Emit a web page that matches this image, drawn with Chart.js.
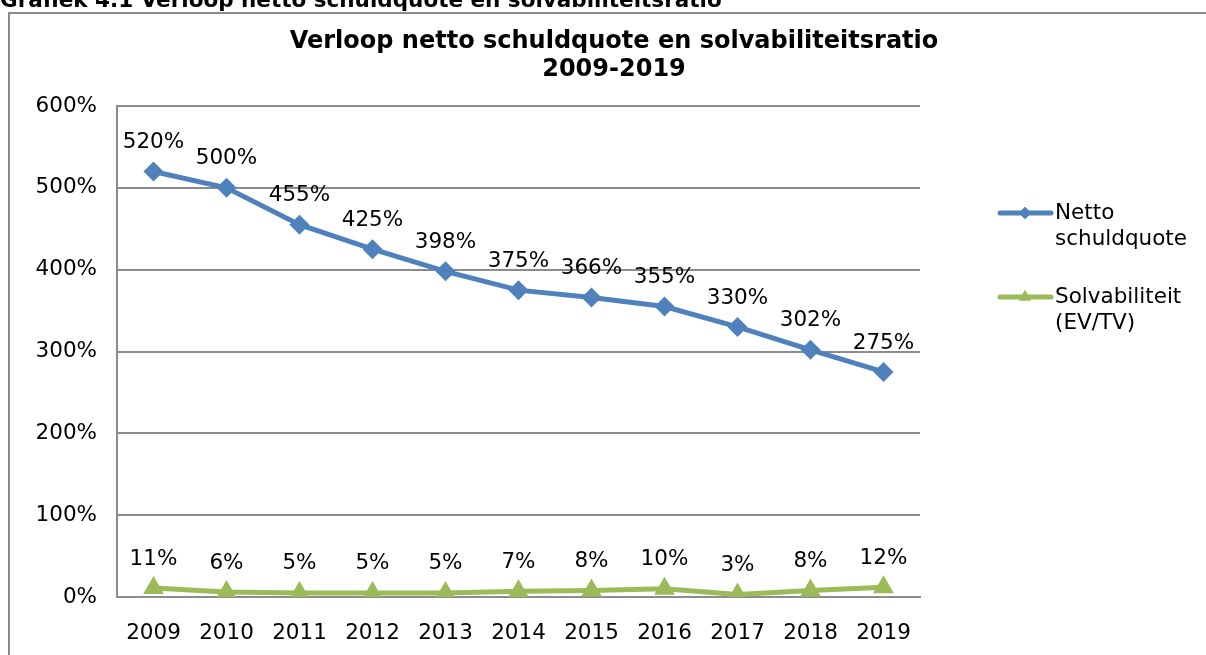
<!DOCTYPE html>
<html>
<head>
<meta charset="utf-8">
<script src="https://cdn.jsdelivr.net/npm/chart.js@4.4.0/dist/chart.umd.min.js"></script>
<style>
  html, body { margin: 0; padding: 0; background: #fff; }
  #wrap { width: 1206px; height: 655px; }
</style>
</head>
<body>
<div id="wrap"><canvas id="lineChart" width="1206" height="655"></canvas></div>
<script>
// Gegevens uit de grafiek
const jaren = ['2009', '2010', '2011', '2012', '2013', '2014', '2015', '2016', '2017', '2018', '2019'];
const nettoSchuldquote = [520, 500, 455, 425, 398, 375, 366, 355, 330, 302, 275];
const solvabiliteit = [11, 6, 5, 5, 5, 7, 8, 10, 3, 8, 12];
const yTicks = [0, 100, 200, 300, 400, 500, 600];

const FONT = 'DejaVu Sans, Verdana, sans-serif';
const FS = 21.5;
const BLUE = '#4F81BD';
const GREEN = '#9BBB59';

// Kop, kader, titel, datalabels en legenda tekenen
const extras = {
    id: 'extras',
    afterDraw(chart) {
        const ctx = chart.ctx;
        ctx.save();

        // kop boven het kader (gedeeltelijk afgesneden)
        ctx.fillStyle = '#000';
        ctx.font = 'bold 21.5px ' + FONT;
        ctx.textAlign = 'left';
        ctx.textBaseline = 'alphabetic';
        ctx.fillText('Grafiek 4.1 Verloop netto schuldquote en solvabiliteitsratio', 0, 7);

        // kader
        ctx.strokeStyle = '#8c8c8c';
        ctx.lineWidth = 2;
        ctx.beginPath();
        ctx.moveTo(9, 660);
        ctx.lineTo(9, 13);
        ctx.lineTo(1210, 13);
        ctx.stroke();

        // titel
        ctx.font = 'bold 24px ' + FONT;
        ctx.textAlign = 'center';
        ctx.textBaseline = 'middle';
        ctx.fillText('Verloop netto schuldquote en solvabiliteitsratio', 614, 42);
        ctx.fillText('2009-2019', 614, 70);

        // datalabels
        ctx.font = FS + 'px ' + FONT;
        ctx.textBaseline = 'middle';
        chart.data.datasets.forEach((ds, i) => {
            chart.getDatasetMeta(i).data.forEach((pt, j) => {
                ctx.fillText(ds.data[j] + '%', pt.x, pt.y - 29);
            });
        });

        // legenda
        const items = [
            { lines: ['Netto', 'schuldquote'], color: BLUE, style: 'rectRot', r: 6, y: 213 },
            { lines: ['Solvabiliteit', '(EV/TV)'], color: GREEN, style: 'triangle', r: 7, y: 297 }
        ];
        items.forEach(it => {
            ctx.strokeStyle = it.color;
            ctx.lineWidth = 5;
            ctx.lineCap = 'round';
            ctx.beginPath();
            ctx.moveTo(1000, it.y);
            ctx.lineTo(1051, it.y);
            ctx.stroke();
            ctx.fillStyle = it.color;
            Chart.helpers.drawPoint(ctx, { pointStyle: it.style, radius: it.r, borderWidth: 0 }, 1025, it.y);
            ctx.fill();
            ctx.fillStyle = '#000';
            ctx.textAlign = 'left';
            ctx.font = FS + 'px ' + FONT;
            it.lines.forEach((t, k) => ctx.fillText(t, 1055, it.y + k * 26));
        });

        ctx.restore();
    }
};

const ctx = document.getElementById('lineChart').getContext('2d');
new Chart(ctx, {
    type: 'line',
    data: {
        labels: jaren,
        datasets: [{
            label: 'Netto schuldquote',
            data: nettoSchuldquote,
            borderColor: BLUE,
            backgroundColor: BLUE,
            borderWidth: 5,
            pointStyle: 'rectRot',
            pointRadius: 10,
            pointBorderWidth: 0,
            tension: 0
        }, {
            label: 'Solvabiliteit (EV/TV)',
            data: solvabiliteit,
            borderColor: GREEN,
            backgroundColor: GREEN,
            borderWidth: 5,
            pointStyle: 'triangle',
            pointRadius: 12,
            pointBorderWidth: 0,
            tension: 0
        }]
    },
    options: {
        responsive: false,
        animation: false,
        devicePixelRatio: 1,
        layout: { padding: { left: 0, top: 106, right: 1206 - 920, bottom: 0 } },
        plugins: {
            legend: { display: false },
            title: { display: false },
            tooltip: { enabled: false }
        },
        scales: {
            x: {
                offset: true,
                grid: { display: false, drawTicks: false },
                border: { display: true, color: '#8c8c8c', width: 2 },
                ticks: { color: '#000', font: { family: FONT, size: FS }, padding: 24, maxRotation: 0 },
                afterFit(scale) { scale.height = 655 - 597; }
            },
            y: {
                min: 0,
                max: 600,
                afterBuildTicks(scale) { scale.ticks = yTicks.map(v => ({ value: v })); },
                grid: { color: '#8c8c8c', lineWidth: 2, drawTicks: false },
                border: { display: true, color: '#8c8c8c', width: 2 },
                ticks: {
                    color: '#000',
                    font: { family: FONT, size: FS },
                    padding: 20,
                    callback: v => v + '%'
                },
                afterFit(scale) { scale.width = 117; }
            }
        }
    },
    plugins: [extras]
});
</script>
</body>
</html>
